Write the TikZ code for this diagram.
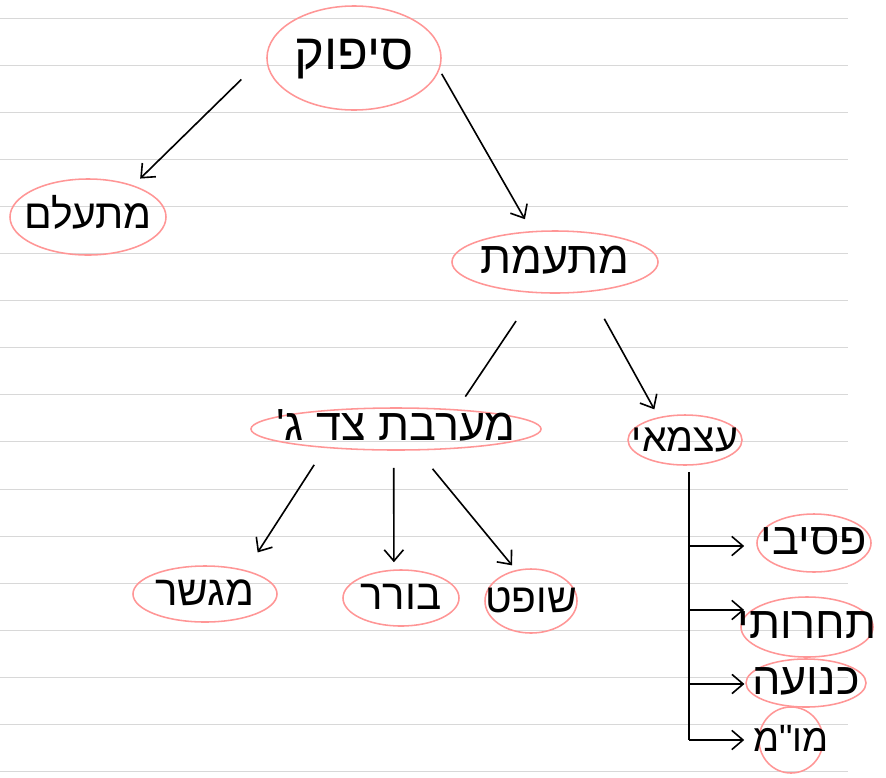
\documentclass[tikz,border=0pt]{standalone}
\usepackage{fontspec}
\newfontfamily\hebfont[Script=Hebrew]{Liberation Sans}
\TeXXeTstate=1
\usetikzlibrary{shapes.geometric,arrows.meta}
\definecolor{bubblepink}{RGB}{255,150,150}
\definecolor{ruling}{RGB}{216,216,216}
\newcommand{\heb}[1]{\makebox[0pt]{\hebfont\beginR #1\endR}}
\tikzset{bubble/.style={draw=bubblepink,line width=1.1pt,ellipse,inner sep=0pt,
    text height=16pt,text depth=0pt,font=\fontsize{32}{34}\selectfont},
  size/.style 2 args={minimum width=#1,minimum height=#2},
  pts/.style={font=\fontsize{#1}{#1}\selectfont},
  arr/.style={-{Straight Barb[length=2.8mm,width=4.8mm]},line width=1.15pt},
  link/.style={line width=1.15pt}}

\begin{document}
\begin{tikzpicture}[x=0.025cm,y=-0.025cm]
  \useasboundingbox (0,0) rectangle (886,777);
  % lined paper
  \foreach \k in {0,...,16}
    \draw[ruling,line width=0.7pt] (0,{18+47.1*\k}) -- (848,{18+47.1*\k});

  \node[bubble,pts=36,size={4.35cm}{2.6cm}]  (sipuk)     at (354,58)  {\heb{סיפוק}};
  \node[bubble,pts=29,size={3.9cm}{1.9cm}]   (mitalem)   at (88,217)  {\heb{מתעלם}};
  \node[bubble,size={5.15cm}{1.55cm}]        (mitamet)   at (555,262) {\heb{מתעמת}};
  \node[bubble,size={7.25cm}{1.05cm}]        (meorevet)  at (396,429) {\heb{מערבת צד ג'}};
  \node[bubble,pts=28,size={2.85cm}{1.25cm}] (atzmai)    at (685,440) {\heb{עצמאי}};
  \node[bubble,pts=30,size={3.6cm}{1.4cm}]   (megasher)  at (205,594) {\heb{מגשר}};
  \node[bubble,pts=30,size={2.9cm}{1.4cm}]   (borer)     at (401,598) {\heb{בורר}};
  \node[bubble,pts=29,size={2.3cm}{1.6cm}]   (shofet)    at (531,601) {\heb{שופט}};
  \node[bubble,size={2.85cm}{1.45cm}]        (pasivi)    at (814,543) {\heb{פסיבי}};
  \node[bubble,size={3.3cm}{1.5cm}]          (tacharuti) at (807,627) {\heb{תחרותי}};
  \node[bubble,size={3.0cm}{1.2cm}]          (kenua)     at (806,683) {\heb{כנועה}};
  \node[bubble,pts=27,size={1.6cm}{1.65cm}]  (mom)       at (791,740) {\heb{מו"מ}};

  \draw[arr,shorten <=0.875cm,shorten >=0.24cm] (sipuk.178.7) -- (mitalem.35.5);
  \draw[arr,shorten <=0.11cm,shorten >=0.34cm] (sipuk.352.5) -- (mitamet.127.6);
  \draw[link,shorten <=0.84cm,shorten >=0.38cm] (mitamet.237.1) -- (meorevet.18.9);
  \draw[arr,shorten <=0.765cm,shorten >=0.22cm] (mitamet.319.5) -- (atzmai.139);
  \draw[arr,shorten <=0.5cm,shorten >=0.53cm] (meorevet.195) -- (megasher.30.9);
  \draw[arr,shorten <=0.425cm,shorten >=0.18cm] (meorevet.264.6) -- (borer.104.1);
  \draw[arr,shorten <=0.59cm,shorten >=0.15cm] (meorevet.315.4) -- (shofet.116.5);

  % branches of atzmai
  \coordinate (fork) at (689,740);
  \draw[link,shorten <=0.15cm] (atzmai.south -| fork) -- (fork);
  \foreach \leaf/\y/\gap in {pasivi/546/0.3,tacharuti/610/-0.1,kenua/684/0.02,mom/740/0.35}{
    \coordinate (b-\leaf) at (689,\y);
    \draw[arr,shorten >=\gap cm] (b-\leaf) -- (b-\leaf -| \leaf.west);
  }
\end{tikzpicture}
\end{document}
